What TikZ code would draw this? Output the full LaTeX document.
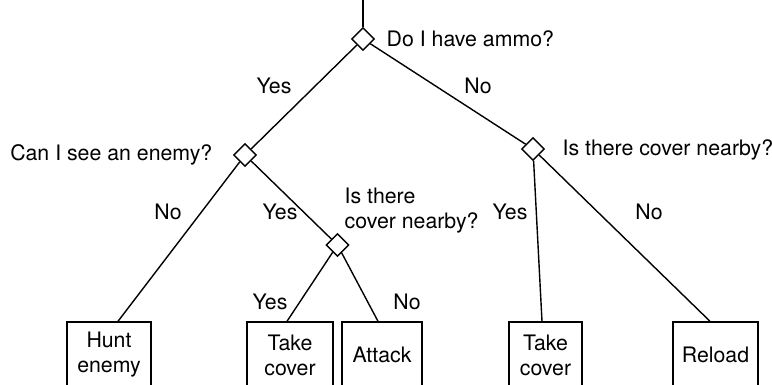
\documentclass[tikz,border=0pt]{standalone}
\usepackage{fontspec}
\setmainfont{TeX Gyre Heros}
\usetikzlibrary{shapes.geometric}

\begin{document}
\begin{tikzpicture}[x=1pt, y=-1pt, line width=1.4pt,
  every node/.style={font=\fontsize{21.3}{25}\selectfont},
  choice/.style={diamond, draw, fill=white, inner sep=0pt, minimum size=23pt},
  leaf/.style={draw, align=center, minimum height=66pt, inner sep=2pt},
  lbl/.style={inner sep=0pt}]
  \path[use as bounding box, clip] (0,0) rectangle (772,385);
  % questions
  \coordinate (root) at (363,0);
  \node[choice] (ammo) at (363,39) {};
  \node[choice] (enemy) at (245,155) {};
  \node[choice] (coverA) at (337.5,245) {};
  \node[choice] (coverB) at (533,149) {};
  \node[lbl, anchor=west] (qammo) at (386,39) {Do I have ammo?};
  \node[lbl, anchor=east] (qenemy) at (213,155) {Can I see an enemy?};
  \node[lbl, anchor=west, align=left] (qcoverA) at (344,211) {Is there\\cover nearby?};
  \node[lbl, anchor=west] (qcoverB) at (562,150) {Is there cover nearby?};
  % actions
  \node[leaf, minimum width=84pt] (hunt) at (109,355) {Hunt\\enemy};
  \node[leaf, minimum width=86pt] (takeA) at (290,355) {Take\\cover};
  \node[leaf, minimum width=80pt] (attack) at (382,355) {Attack};
  \node[leaf, minimum width=73pt] (takeB) at (545.5,355) {Take\\cover};
  \node[leaf, minimum width=85pt] (reload) at (715.5,355) {Reload};
  % branches
  \draw (root) -- (ammo);
  \draw (ammo) -- (enemy);
  \draw (ammo) -- (coverB);
  \draw (enemy) -- ([xshift=9pt]hunt.north);
  \draw (enemy) -- (coverA);
  \draw (coverA) -- ([xshift=-3pt]takeA.north);
  \draw (coverA) -- ([xshift=-4pt]attack.north);
  \draw (coverB) -- ([xshift=-3.5pt]takeB.north);
  \draw (coverB) -- ([xshift=-5.5pt]reload.north);
  % answers
  \node[lbl] (y1) at (274,86) {Yes};
  \node[lbl] (n1) at (478,86) {No};
  \node[lbl] (n2) at (168,212) {No};
  \node[lbl] (y2) at (280,212) {Yes};
  \node[lbl] (y3) at (270,302) {Yes};
  \node[lbl] (n3) at (407,302) {No};
  \node[lbl] (y4) at (510,212) {Yes};
  \node[lbl] (n4) at (649,212) {No};
\end{tikzpicture}
\end{document}
